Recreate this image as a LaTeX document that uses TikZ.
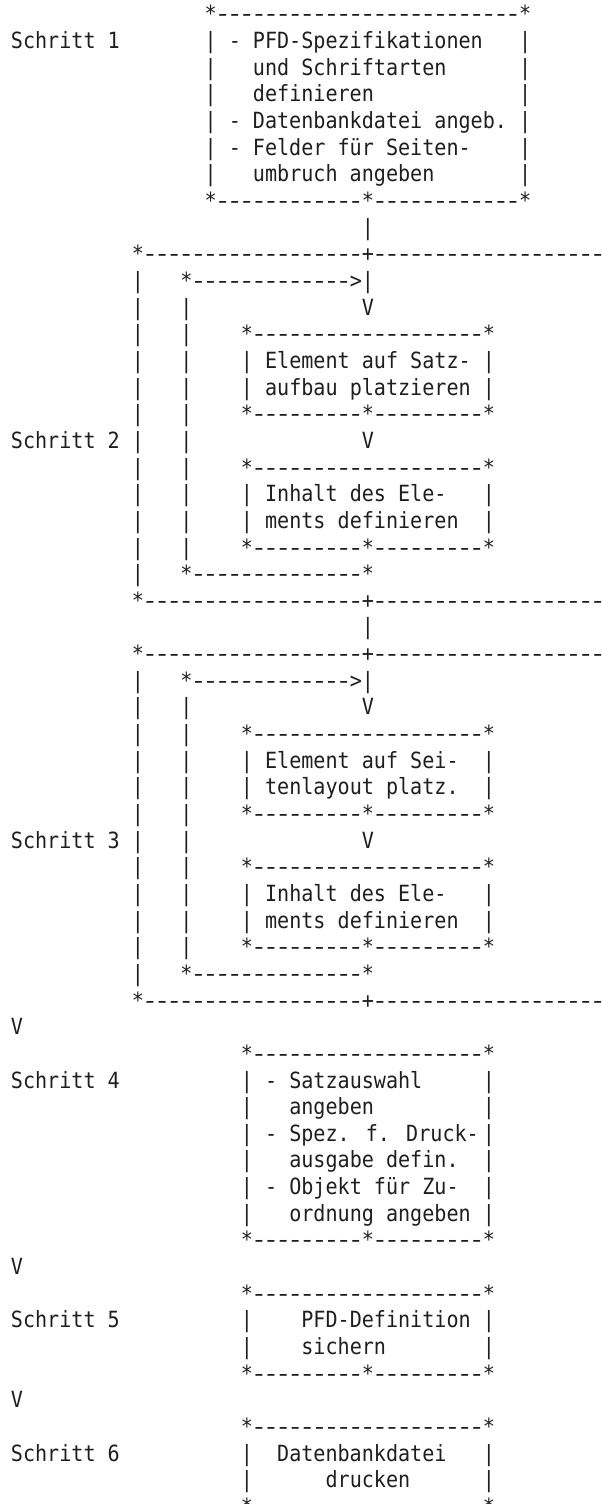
\documentclass[tikz,border=0pt]{standalone}
\usepackage{fontspec}
\usepackage{graphicx}
\newfontfamily\asciifont[FakeStretch=0.9]{DejaVu Sans Mono}
\definecolor{ink}{HTML}{1E1E1E}
% width of one character cell
\newlength\cellw
\setlength\cellw{6.05pt}
% a frame dash, a little longer than the plain hyphen, in one cell
\newcommand\framedash{\makebox[\cellw][c]{\scalebox{1.35}[1]{-}}}
\ExplSyntaxOn
\cs_new:Npn \dashrun #1 { \prg_replicate:nn {#1} {\framedash} }
\ExplSyntaxOff
% one text run on the character grid: name, column, row, text
\newcommand\seg[4]{\node[txt] (#1) at ({10.95+12.1*(#2)},{22+26.65*(#3)}) {#4};}
% a repeated step: outer frame, loop-back arrow and two boxes
\newcommand\stepblock[5]{%
  \seg{#1top}{10}{#2}{*\dashrun{18}+\dashrun{20}}
  \foreach \k in {1,...,12}{\seg{#1o\k}{10}{#2+\k}{|}}
  \seg{#1arr}{14}{#2+1}{*\dashrun{13}>|}
  \foreach \k in {2,...,11}{\seg{#1i\k}{14}{#2+\k}{|}}
  \seg{#1va}{29}{#2+2}{V}
  \seg{#1at}{19}{#2+3}{*\dashrun{19}*}
  \seg{#1al}{19}{#2+4}{|}\seg{#1ar}{39}{#2+4}{|}\seg{#1a1}{21}{#2+4}{#4}
  \seg{#1bl}{19}{#2+5}{|}\seg{#1br}{39}{#2+5}{|}\seg{#1a2}{21}{#2+5}{#5}
  \seg{#1ab}{19}{#2+6}{*\dashrun{9}*\dashrun{9}*}
  \seg{#1lab}{0}{#2+7}{#3}
  \seg{#1vb}{29}{#2+7}{V}
  \seg{#1bt}{19}{#2+8}{*\dashrun{19}*}
  \seg{#1cl}{19}{#2+9}{|}\seg{#1cr}{39}{#2+9}{|}\seg{#1b1}{21}{#2+9}{Inhalt des Ele-}
  \seg{#1dl}{19}{#2+10}{|}\seg{#1dr}{39}{#2+10}{|}\seg{#1b2}{21}{#2+10}{ments definieren}
  \seg{#1bb}{19}{#2+11}{*\dashrun{9}*\dashrun{9}*}
  \seg{#1back}{14}{#2+12}{*\dashrun{14}*}
  \seg{#1end}{10}{#2+13}{*\dashrun{18}+\dashrun{20}}
}
\begin{document}
\begin{tikzpicture}[x=0.5pt,y=-0.5pt,
  txt/.style={anchor=base west, inner sep=0pt, outer sep=0pt, text=ink,
    font=\asciifont\fontsize{11.166pt}{13pt}\selectfont}]
\useasboundingbox (0,0) rectangle (601,1504);
\begin{scope}
\clip (0,0) rectangle (601,1504);
% step 1
\seg{aTop}{16}{0}{*\dashrun{25}*}
\seg{aLab}{0}{1}{Schritt 1}
\foreach \r in {1,...,6}{\seg{aL\r}{16}{\r}{|}\seg{aR\r}{42}{\r}{|}}
\seg{aT1}{18}{1}{- PFD-Spezifikationen}
\seg{aT2}{20}{2}{und Schriftarten}
\seg{aT3}{20}{3}{definieren}
\seg{aT4}{18}{4}{- Datenbankdatei angeb.}
\seg{aT5}{18}{5}{- Felder für Seiten-}
\seg{aT6}{20}{6}{umbruch angeben}
\seg{aBot}{16}{7}{*\dashrun{12}*\dashrun{12}*}
\seg{aDown}{29}{8}{|}
% steps 2 and 3
\stepblock{b}{9}{Schritt 2}{Element auf Satz-}{aufbau platzieren}
\seg{bDown}{29}{23}{|}
\stepblock{c}{24}{Schritt 3}{Element auf Sei-}{tenlayout platz.}
% step 4
\seg{dV}{0}{38}{V}
\seg{dTop}{19}{39}{*\dashrun{19}*}
\seg{dLab}{0}{40}{Schritt 4}
\foreach \r in {40,...,45}{\seg{dL\r}{19}{\r}{|}\seg{dR\r}{39}{\r}{|}}
\seg{dT1}{21}{40}{- Satzauswahl}
\seg{dT2}{23}{41}{angeben}
\seg{dT3}{21}{42}{- Spez. f. Druck-}
\seg{dT4}{23}{43}{ausgabe defin.}
\seg{dT5}{21}{44}{- Objekt für Zu-}
\seg{dT6}{23}{45}{ordnung angeben}
\seg{dBot}{19}{46}{*\dashrun{9}*\dashrun{9}*}
% step 5
\seg{eV}{0}{47}{V}
\seg{eTop}{19}{48}{*\dashrun{19}*}
\seg{eLab}{0}{49}{Schritt 5}
\foreach \r in {49,50}{\seg{eL\r}{19}{\r}{|}\seg{eR\r}{39}{\r}{|}}
\seg{eT1}{24}{49}{PFD-Definition}
\seg{eT2}{24}{50}{sichern}
\seg{eBot}{19}{51}{*\dashrun{9}*\dashrun{9}*}
% step 6
\seg{fV}{0}{52}{V}
\seg{fTop}{19}{53}{*\dashrun{19}*}
\seg{fLab}{0}{54}{Schritt 6}
\foreach \r in {54,55}{\seg{fL\r}{19}{\r}{|}\seg{fR\r}{39}{\r}{|}}
\seg{fT1}{22}{54}{Datenbankdatei}
\seg{fT2}{26}{55}{drucken}
\seg{fBot}{19}{56}{*\dashrun{19}*}
\end{scope}
\end{tikzpicture}
\end{document}
